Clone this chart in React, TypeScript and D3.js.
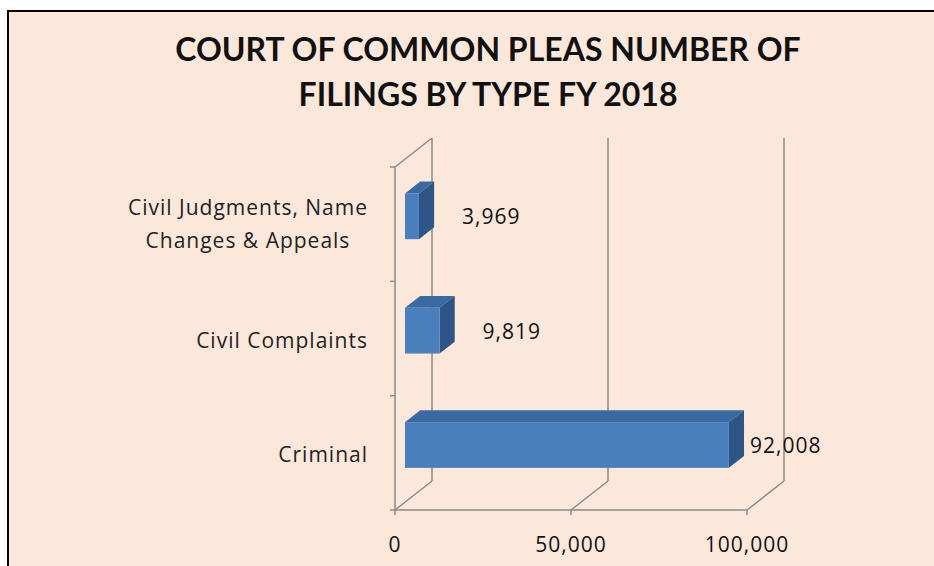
import React, { useEffect, useRef } from "react";
import * as d3 from "d3";

const titleLines = ["COURT OF COMMON PLEAS NUMBER OF", "FILINGS BY TYPE FY 2018"];
const categories = ["Civil Judgments, Name Changes & Appeals", "Civil Complaints", "Criminal"];
const categoryLines = [["Civil Judgments, Name", "Changes & Appeals"], ["Civil Complaints"], ["Criminal"]];
const values = [3969, 9819, 92008];
const xTicks = [0, 50000, 100000];

const W = 934;
const H = 566;

const App = () => {
  const ref = useRef<SVGSVGElement>(null);

  useEffect(() => {
    document.body.style.margin = "0";
    const svg = d3.select(ref.current);
    svg.selectAll("*").remove();

    const titleFont = "Lato, sans-serif";
    const font = "'Open Sans', sans-serif";
    const gridColor = "#8e8a87";
    const spacing = 1;

    svg.append("rect").attr("width", W).attr("height", H).attr("fill", "#ffffff");
    svg.append("rect")
      .attr("x", 8).attr("y", 11).attr("width", W + 20).attr("height", H + 20)
      .attr("fill", "#fce8da").attr("stroke", "#000").attr("stroke-width", 2);

    // title
    svg.append("g").selectAll("text").data(titleLines).join("text")
      .attr("x", 488)
      .attr("y", (d, i) => 61 + i * 45)
      .attr("text-anchor", "middle")
      .attr("font-family", titleFont)
      .attr("font-weight", "bold")
      .attr("font-size", 32)
      .attr("fill", "#111")
      .text((d) => d);

    // front plane scales, depth offset for the back wall
    const x = d3.scaleLinear().domain([0, 100000]).range([395, 747]);
    const y = d3.scaleBand<string>().domain(categories).range([167, 510]);
    const depth = { dx: 37, dy: -29 };
    const yTop = y.range()[0];
    const yBot = y.range()[1];

    const g = svg.append("g");

    // left wall
    g.append("line").attr("x1", x(0)).attr("x2", x(0)).attr("y1", yTop).attr("y2", yBot)
      .attr("stroke", gridColor).attr("stroke-width", 1.5);
    g.append("line").attr("x1", x(0)).attr("y1", yTop)
      .attr("x2", x(0) + depth.dx).attr("y2", yTop + depth.dy)
      .attr("stroke", gridColor).attr("stroke-width", 1.5);
    const bounds = [yTop, ...categories.map((c) => (y(c) as number) + y.bandwidth())];
    g.selectAll(".ytick").data(bounds).join("line")
      .attr("x1", x(0) - 5).attr("x2", x(0))
      .attr("y1", (d) => d).attr("y2", (d) => d)
      .attr("stroke", gridColor).attr("stroke-width", 1.5);

    // back wall grid lines
    g.selectAll(".grid").data(xTicks).join("line")
      .attr("x1", (d) => x(d) + depth.dx).attr("x2", (d) => x(d) + depth.dx)
      .attr("y1", yTop + depth.dy).attr("y2", yBot + depth.dy)
      .attr("stroke", gridColor).attr("stroke-width", 1.5);

    // floor
    g.append("line").attr("x1", x(0)).attr("x2", x(100000)).attr("y1", yBot).attr("y2", yBot)
      .attr("stroke", gridColor).attr("stroke-width", 1.5);
    g.selectAll(".floor").data(xTicks).join("line")
      .attr("x1", (d) => x(d)).attr("y1", yBot)
      .attr("x2", (d) => x(d) + depth.dx).attr("y2", yBot + depth.dy)
      .attr("stroke", gridColor).attr("stroke-width", 1.5);
    g.selectAll(".xtick").data(xTicks).join("line")
      .attr("x1", (d) => x(d)).attr("x2", (d) => x(d))
      .attr("y1", yBot).attr("y2", yBot + 5)
      .attr("stroke", gridColor).attr("stroke-width", 1.5);

    g.selectAll(".xlabel").data(xTicks).join("text")
      .attr("x", (d) => x(d)).attr("y", 552)
      .attr("text-anchor", "middle")
      .attr("font-family", font).attr("font-size", 21).attr("letter-spacing", spacing).attr("fill", "#111")
      .text((d) => d3.format(",")(d));

    // bars
    const t0 = 0.27;
    const t1 = 0.68;
    const fx = t0 * depth.dx, fy = t0 * depth.dy;
    const bx = (t1 - t0) * depth.dx, by = (t1 - t0) * depth.dy;
    const thick = y.bandwidth() * 0.4;

    categories.forEach((c, i) => {
      const v = values[i];
      const cy = (y(c) as number) + y.bandwidth() / 2 + fy;
      const x0 = x(0) + fx;
      const x1 = x(v) + fx;
      const top = cy - thick / 2;
      const bot = cy + thick / 2;
      g.append("path")
        .attr("d", `M${x0},${top}L${x0 + bx},${top + by}L${x1 + bx},${top + by}L${x1},${top}Z`)
        .attr("fill", "#3b6aa3");
      g.append("path")
        .attr("d", `M${x1},${top}L${x1 + bx},${top + by}L${x1 + bx},${bot + by}L${x1},${bot}Z`)
        .attr("fill", "#2d5686");
      g.append("rect")
        .attr("x", x0).attr("y", top).attr("width", x1 - x0).attr("height", thick)
        .attr("fill", "#4a7ebd");

      const lx = v > 50000 ? x1 + bx + 6 : x1 + 43;
      g.append("text")
        .attr("x", lx).attr("y", cy + 8)
        .attr("font-family", font).attr("font-size", 21).attr("letter-spacing", spacing).attr("fill", "#111")
        .text(d3.format(",")(v));

      // category labels, wrapped lines centred in a right-aligned block
      const lines = categoryLines[i];
      const labelG = g.append("g");
      const texts = labelG.selectAll("text").data(lines).join("text")
        .attr("y", (d, j) => (y(c) as number) + y.bandwidth() / 2 + 9 + (j - (lines.length - 1) / 2) * 33 - (lines.length > 1 ? 2 : 0))
        .attr("text-anchor", "middle")
        .attr("font-family", font).attr("font-size", 21).attr("letter-spacing", spacing).attr("fill", "#222")
        .text((d) => d);
      let maxW = 0;
      texts.each(function () {
        maxW = Math.max(maxW, (this as SVGTextElement).getComputedTextLength());
      });
      texts.attr("x", 368 - maxW / 2);
    });
  }, []);

  return <svg ref={ref} width={W} height={H} style={{ display: "block" }} />;
};

export default App;
